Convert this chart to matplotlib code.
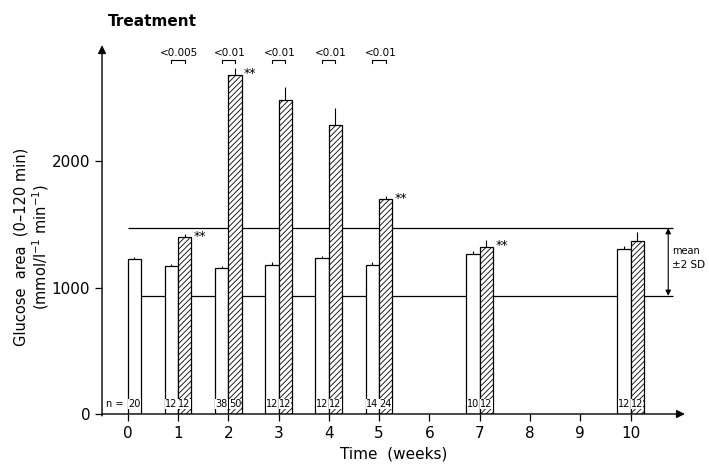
import matplotlib
matplotlib.use("Agg")
import matplotlib.pyplot as plt
import numpy as np

plt.rcParams["font.family"] = ["DejaVu Sans"]
plt.rcParams["hatch.linewidth"] = 0.6

# week positions and group means (open = control, hatched = treated)
weeks = [0, 1, 2, 3, 4, 5, 7, 10]
control = [1228, 1170, 1154, 1175, 1233, 1180, 1262, 1302]
control_err = [15, 20, 20, 30, 20, 20, 30, 30]
treated_weeks = [1, 2, 3, 4, 5, 7, 10]
treated = [1397, 2680, 2482, 2282, 1697, 1323, 1368]
treated_err = [30, 55, 105, 135, 25, 50, 75]
n_control = ["20", "12", "38", "12", "12", "14", "10", "12"]
n_treated = ["12", "50", "12", "12", "24", "12", "12"]
starred_weeks = [1, 2, 5, 7]
p_weeks = [1, 2, 3, 4, 5]
p_labels = ["<0.005", "<0.01", "<0.01", "<0.01", "<0.01"]
band_low, band_high = 935, 1470
xticks = list(range(11))
yticks = [0, 1000, 2000]

W = 0.265

fig = plt.figure(figsize=(7.09, 4.68), dpi=100)
ax = fig.add_axes([0.1439, 0.1154, 0.822, 0.788])
ax.set_xlim(-0.51, 11.08)
ax.set_ylim(0, 2917)

# mean +/- 2 SD reference band
ax.hlines([band_low, band_high], 0, 10.85, color="black", lw=0.9, zorder=1)

# control bars sit left of the tick when paired, right of it when alone
c_x = np.array([w - W / 2 if w in treated_weeks else w + W / 2 for w in weeks])
ax.bar(c_x, control, width=W, facecolor="white", edgecolor="black", lw=0.9, zorder=2)
ax.errorbar(c_x, control, yerr=[np.zeros(len(control)), control_err],
            fmt="none", ecolor="black", elinewidth=0.8, capsize=0, zorder=3)
t_x = np.array(treated_weeks) + W / 2
ax.bar(t_x, treated, width=W, facecolor="white", edgecolor="black", lw=0.9,
       hatch="//////", zorder=2)
ax.errorbar(t_x, treated, yerr=[np.zeros(len(treated)), treated_err],
            fmt="none", ecolor="black", elinewidth=0.8, capsize=0, zorder=3)

# sample sizes inside the bars
n_style = dict(ha="center", va="bottom", fontsize=7, zorder=4,
               bbox=dict(fc="white", ec="none", pad=0.1))
for x, n in zip(c_x, n_control):
    ax.text(x, 40, n, **n_style)
for x, n in zip(t_x, n_treated):
    ax.text(x, 40, n, **n_style)
ax.text(-0.08, 40, "n =", ha="right", va="bottom", fontsize=7)

# significance stars
for w in starred_weeks:
    i = treated_weeks.index(w)
    ax.text(w + W + 0.05, treated[i] + 10, "**", ha="left", va="center", fontsize=9)

# p-value brackets above the pairs
for w, lab in zip(p_weeks, p_labels):
    x0, x1 = w - W / 2, w + W / 2
    yb = 2800
    ax.plot([x0, x0, x1, x1], [yb - 25, yb, yb, yb - 25], color="black", lw=0.8,
            clip_on=False)
    ax.text(w + 0.03, yb + 15, lab, ha="center", va="bottom", fontsize=7.5)

# mean +/- 2 SD double arrow
ax.annotate("", xy=(10.75, band_high), xytext=(10.75, band_low),
            arrowprops=dict(arrowstyle="<|-|>", color="black", lw=0.8,
                            mutation_scale=8, shrinkA=0, shrinkB=0))
ax.text(10.82, 1290, "mean", ha="left", va="center", fontsize=7)
ax.text(10.82, 1180, "\u00b12 SD", ha="left", va="center", fontsize=7.5)

# axes drawn as arrows
for s in ax.spines.values():
    s.set_visible(False)
ax.annotate("", xy=(0, 1), xytext=(0, -0.005), xycoords="axes fraction",
            arrowprops=dict(arrowstyle="-|>", color="black", lw=1.0,
                            mutation_scale=12, shrinkA=0, shrinkB=0))
ax.annotate("", xy=(1, 0), xytext=(0, 0), xycoords="axes fraction",
            arrowprops=dict(arrowstyle="-|>", color="black", lw=1.0,
                            mutation_scale=12, shrinkA=0, shrinkB=0))

ax.set_xticks(xticks)
ax.set_yticks(yticks)
ax.tick_params(direction="out", length=5, width=0.9, labelsize=11)
ax.set_xlabel("Time  (weeks)", fontsize=11, labelpad=4)
fig.text(32 / 709, 1 - 247 / 468,
         "Glucose  area  (0\u2013120 min)\n(mmol/l$^{-1}$ min$^{-1}$)",
         rotation=90, ha="center", va="center", fontsize=10.5,
         linespacing=1.1, multialignment="center")

fig.text(108 / 709, 1 - 22 / 468, "Treatment", ha="left", va="center",
         fontsize=11, fontweight="bold")

fig.savefig("out.png", dpi=100, facecolor="white")
